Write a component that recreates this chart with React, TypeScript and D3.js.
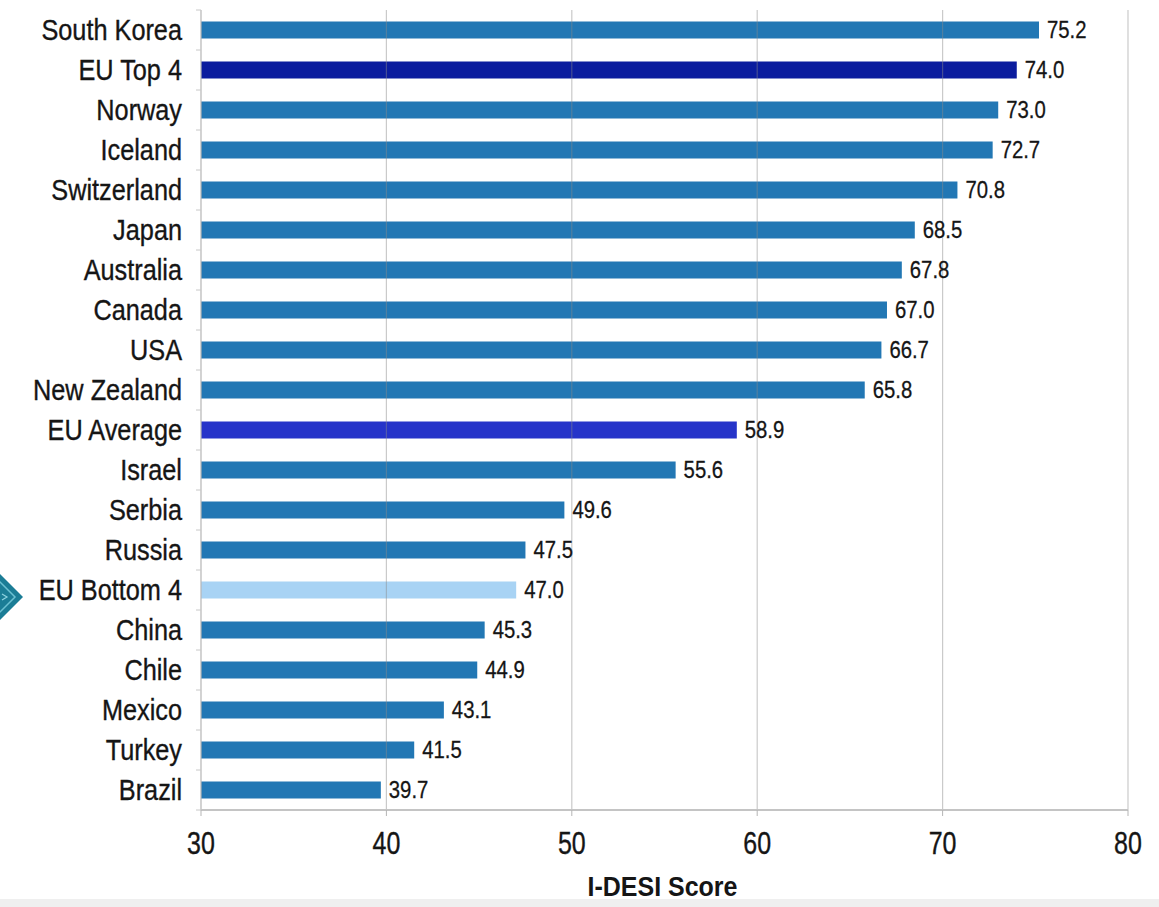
import React from "react";
import * as d3 from "d3";

const categories = [
  "South Korea", "EU Top 4", "Norway", "Iceland", "Switzerland", "Japan",
  "Australia", "Canada", "USA", "New Zealand", "EU Average", "Israel",
  "Serbia", "Russia", "EU Bottom 4", "China", "Chile", "Mexico", "Turkey", "Brazil",
];
const scores = [
  75.2, 74.0, 73.0, 72.7, 70.8, 68.5, 67.8, 67.0, 66.7, 65.8, 58.9, 55.6,
  49.6, 47.5, 47.0, 45.3, 44.9, 43.1, 41.5, 39.7,
];
const xTicks = [30, 40, 50, 60, 70, 80];
const xTitle = "I-DESI Score";

const specialColors: Record<string, string> = {
  "EU Top 4": "#0b1c9e",
  "EU Average": "#2634c9",
  "EU Bottom 4": "#a8d3f4",
};
const defaultColor = "#2277b4";

const W = 1159;
const H = 907;
const FONT = "'Liberation Sans', Arial, Helvetica, sans-serif";

export default function App() {
  const x = d3.scaleLinear().domain([30, 80]).range([201, 1128]);
  const y = d3.scaleBand<string>().domain(categories).range([10, 810]).paddingInner(0).paddingOuter(0);
  const barH = 17;
  const axisY = 810;
  const boundaries = d3.range(categories.length + 1).map((i) => 10 + i * y.step());

  return (
    <svg
      width={W}
      height={H}
      style={{ position: "absolute", left: 0, top: 0, background: "#ffffff", fontFamily: FONT }}
    >
      <rect x={0} y={0} width={W} height={H} fill="#ffffff" />
      <rect x={0} y={899} width={W} height={8} fill="#efefef" />

      {/* bars */}
      {categories.map((c, i) => {
        const yc = (y(c) as number) + y.bandwidth() / 2;
        return (
          <rect
            key={c}
            x={x(30)}
            y={yc - barH / 2}
            width={x(scores[i]) - x(30)}
            height={barH}
            fill={specialColors[c] ?? defaultColor}
          />
        );
      })}

      {/* gridlines */}
      {xTicks.slice(1).map((t) => (
        <line key={t} x1={x(t)} x2={x(t)} y1={10} y2={axisY} stroke="#8a8a8a" strokeOpacity={0.45} strokeWidth={1.2} />
      ))}

      {/* axes */}
      <line x1={x(30)} x2={x(30)} y1={10} y2={axisY} stroke="#b5b5b5" strokeWidth={1.2} />
      <line x1={x(30)} x2={x(80)} y1={axisY} y2={axisY} stroke="#c4c4c4" strokeWidth={2} />
      {boundaries.map((b, i) => (
        <line key={i} x1={x(30) - 5} x2={x(30)} y1={b} y2={b} stroke="#c8c8c8" strokeWidth={1} />
      ))}
      {xTicks.map((t) => (
        <line key={t} x1={x(t)} x2={x(t)} y1={axisY} y2={axisY + 6} stroke="#b5b5b5" strokeWidth={1} />
      ))}

      {/* category labels */}
      {categories.map((c) => {
        const yc = (y(c) as number) + y.bandwidth() / 2;
        return (
          <text
            key={c}
            transform={`translate(${182},${yc + 9.5}) scale(1,1.16)`}
            textAnchor="end"
            fontSize={25.3}
            fill="#151515"
            stroke="#151515"
            strokeWidth={0.3}
          >
            {c}
          </text>
        );
      })}

      {/* value labels */}
      {categories.map((c, i) => {
        const yc = (y(c) as number) + y.bandwidth() / 2;
        return (
          <text
            key={c}
            transform={`translate(${x(scores[i]) + 8},${yc + 8}) scale(1,1.16)`}
            fontSize={20.3}
            fill="#151515"
            stroke="#151515"
            strokeWidth={0.25}
          >
            {scores[i].toFixed(1)}
          </text>
        );
      })}

      {/* tick labels */}
      {xTicks.map((t) => (
        <text
          key={t}
          transform={`translate(${x(t)},${854}) scale(1,1.22)`}
          textAnchor="middle"
          fontSize={25}
          fill="#151515"
          stroke="#151515"
          strokeWidth={0.3}
        >
          {t}
        </text>
      ))}

      <text
        transform={`translate(${x(55) - 2},${896}) scale(1,1.1)`}
        textAnchor="middle"
        fontSize={25}
        fontWeight="bold"
        fill="#151515"
      >
        {xTitle}
      </text>

      {/* decorative marker */}
      <g transform="translate(0,597)">
        <path d="M0,-23 L23,0 L0,23 L-23,0 Z" fill="#1b7d96" />
        <path d="M0,-15 L15,0 L0,15 L-15,0 Z" fill="none" stroke="#6cc0d2" strokeWidth={1.5} />
        <path d="M2,-3 L7,0 L2,3" fill="none" stroke="#8fd3e0" strokeWidth={1.2} />
      </g>
    </svg>
  );
}
